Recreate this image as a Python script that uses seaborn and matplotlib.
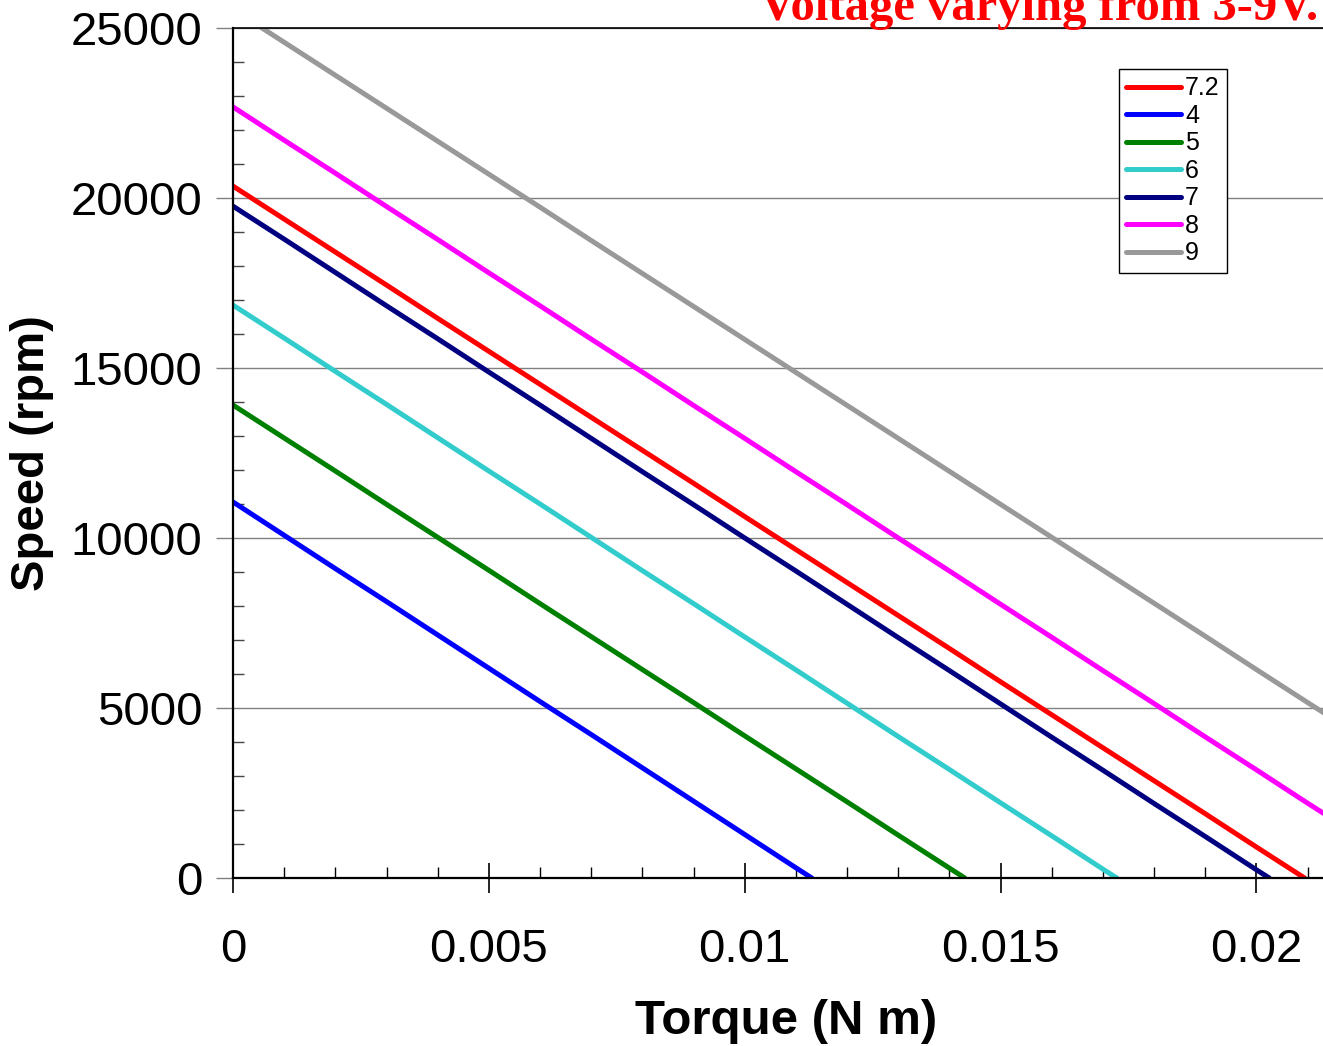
import pandas as pd
import seaborn as sns
import matplotlib.pyplot as plt
from matplotlib.ticker import MultipleLocator

# Torque grid (N m) shared by every curve
torque = [0.000, 0.001, 0.002, 0.003, 0.004, 0.005, 0.006, 0.007, 0.008, 0.009,
          0.010, 0.011, 0.012, 0.013, 0.014, 0.015, 0.016, 0.017, 0.018, 0.019,
          0.020, 0.021, 0.0215]

# Speed (rpm) at each torque point, per supply voltage
speed_72 = [20350, 19380, 18410, 17440, 16460, 15490, 14520, 13550, 12580, 11610,
            10630, 9660, 8690, 7720, 6750, 5770, 4800, 3830, 2860, 1890, 910]
speed_4 = [11060, 10080, 9100, 8130, 7150, 6170, 5190, 4220, 3240, 2260, 1280, 300]
speed_5 = [13910, 12940, 11970, 10990, 10020, 9050, 8070, 7100, 6130, 5160, 4180,
           3210, 2240, 1260, 290]
speed_6 = [16850, 15880, 14900, 13930, 12950, 11970, 11000, 10020, 9040, 8070, 7090,
           6120, 5140, 4160, 3190, 2210, 1240, 260]
speed_7 = [19760, 18790, 17810, 16830, 15860, 14880, 13910, 12930, 11950, 10980,
           10000, 9030, 8050, 7070, 6100, 5120, 4140, 3170, 2190, 1220, 240]
speed_8 = [22680, 21700, 20730, 19750, 18780, 17800, 16830, 15850, 14880, 13900,
           12930, 11950, 10980, 10000, 9030, 8050, 7080, 6100, 5130, 4150, 3180,
           2200, 1720]
speed_9 = [25550, 24580, 23610, 22640, 21670, 20700, 19730, 18750, 17780, 16810,
           15840, 14870, 13900, 12930, 11960, 10990, 10020, 9050, 8080, 7110, 6130,
           5160, 4680]

# Stall torque where the curve reaches 0 rpm (None = runs off the chart)
stall_72 = 0.02094
stall_4 = 0.01131
stall_5 = 0.01430
stall_6 = 0.01727
stall_7 = 0.02025

voltages = ["7.2", "4", "5", "6", "7", "8", "9"]
colors = ["#FF0000", "#0000FF", "#008000", "#33CCCC", "#000080", "#FF00FF", "#999999"]

series = [
    ("7.2", speed_72, stall_72),
    ("4", speed_4, stall_4),
    ("5", speed_5, stall_5),
    ("6", speed_6, stall_6),
    ("7", speed_7, stall_7),
    ("8", speed_8, None),
    ("9", speed_9, None),
]
rows = []
for v, speeds, stall in series:
    for t, s in zip(torque, speeds):
        rows.append((v, t, s))
    if stall is not None:
        rows.append((v, stall, 0))
df = pd.DataFrame(rows, columns=["Voltage", "Torque", "Speed"])

sns.set_style("ticks")
plt.rcParams["font.family"] = ["Liberation Sans", "DejaVu Sans"]
plt.rcParams["text.color"] = "black"
plt.rcParams["axes.labelcolor"] = "black"
plt.rcParams["xtick.color"] = "black"
plt.rcParams["ytick.color"] = "black"

fig = plt.figure(figsize=(13.23, 10.46), dpi=100)
ax = fig.add_axes([233 / 1323, 1 - 878 / 1046, 1 - 233 / 1323, 850 / 1046])

sns.lineplot(data=df, x="Torque", y="Speed", hue="Voltage", hue_order=voltages,
             palette=dict(zip(voltages, colors)), estimator=None, sort=False,
             linewidth=3.6, ax=ax)

ax.set_xlim(0, 0.0213)
ax.set_ylim(0, 25000)
ax.xaxis.set_minor_locator(MultipleLocator(0.001))
ax.yaxis.set_minor_locator(MultipleLocator(1000))
ax.set_xticks([0, 0.005, 0.01, 0.015, 0.02])
ax.set_xticklabels(["0", "0.005", "0.01", "0.015", "0.02"])
ax.set_yticks([0, 5000, 10000, 15000, 20000, 25000])
ax.set_yticklabels(["0", "5000", "10000", "15000", "20000", "25000"])

ax.grid(axis="y", color="#808080", linewidth=1.0)
ax.tick_params(axis="x", which="major", direction="inout", length=22, width=1.2,
               color="black", labelcolor="black", labelsize=34, pad=25)
ax.tick_params(axis="x", which="minor", direction="in", length=8, width=1, color="black")
ax.tick_params(axis="y", which="major", direction="out", length=12, width=1,
               color="#808080", labelcolor="black", labelsize=34, pad=10)
ax.tick_params(axis="y", which="minor", direction="in", length=8, width=1, color="#444444")

for side in ["left", "bottom", "top"]:
    ax.spines[side].set_color("black")
ax.spines["left"].set_linewidth(1.6)
ax.spines["bottom"].set_linewidth(1.6)
ax.spines["top"].set_linewidth(1.2)
ax.spines["right"].set_visible(False)

ax.set_xlabel("Torque (N m)", fontsize=35.5, fontweight="bold", color="black")
ax.xaxis.set_label_coords((786 - 233) / 1090, -0.142)
ax.set_ylabel("Speed (rpm)", fontsize=34, fontweight="bold", labelpad=12, color="black")

handles, labels = ax.get_legend_handles_labels()
leg = ax.legend(handles, labels, loc="upper right", bbox_to_anchor=(0.912, 0.952),
                fontsize=18, handlelength=2.2, handletextpad=0.15, labelspacing=0.14,
                borderpad=0.3, borderaxespad=0, frameon=True, fancybox=False,
                edgecolor="black", framealpha=1)
leg.get_frame().set_linewidth(1)
for line in leg.get_lines():
    line.set_linewidth(3.6)
for txt in leg.get_texts():
    txt.set_color("black")

fig.text(0.9962, 1 - 20 / 1046, "Voltage varying from 3-9V.", ha="right",
         va="baseline", color="red", fontsize=35, fontweight="bold",
         family=["Liberation Serif", "DejaVu Serif"])

fig.savefig("out.png", dpi=100)
